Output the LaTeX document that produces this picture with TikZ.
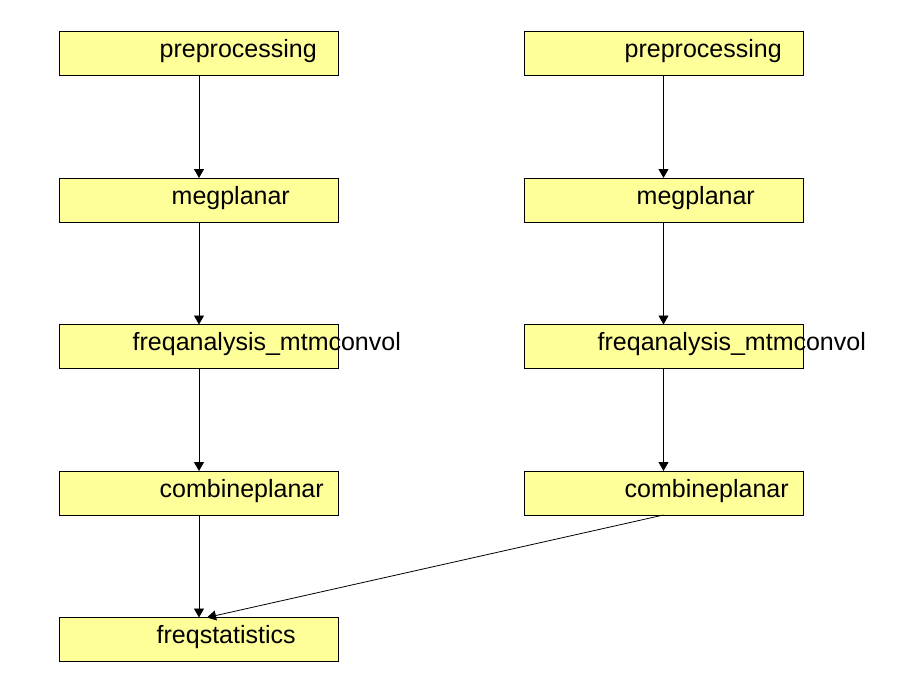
\documentclass[tikz,border=0pt]{standalone}
\usepackage{fontspec}
\setmainfont{Liberation Sans}
\usetikzlibrary{arrows.meta}
\definecolor{boxfill}{RGB}{255,255,153}
\begin{document}
\begin{tikzpicture}[x=1pt,y=-1pt,
  box/.style={draw=black,fill=boxfill,line width=0.8pt,minimum width=279pt,minimum height=44pt,inner sep=0pt,outer sep=0pt},
  lbl/.style={anchor=base west,inner sep=0pt,font=\fontsize{25pt}{28pt}\selectfont},
  conn/.style={draw=black,line width=0.8pt,-{Triangle[width=10pt,length=9pt]}}]
\useasboundingbox (0,0) rectangle (914,686);
% left column
\node[box] (pp1) at (199,53.5) {};
\node[box] (mp1) at (199,200) {};
\node[box] (fa1) at (199,346.5) {};
\node[box] (cp1) at (199,493) {};
\node[box] (fs) at (199,639.5) {};
% right column
\node[box] (pp2) at (663.5,53.5) {};
\node[box] (mp2) at (663.5,200) {};
\node[box] (fa2) at (663.5,346.5) {};
\node[box] (cp2) at (663.5,493) {};
% labels
\node[lbl] (tpp1) at (159.5,57.5) {preprocessing};
\node[lbl] (tmp1) at (171.5,204) {megplanar};
\node[lbl] (tfa1) at (132.5,350.5) {freqanalysis\_mtmconvol};
\node[lbl] (tcp1) at (159.5,497) {combineplanar};
\node[lbl] (tfs) at (156.5,643.5) {freqstatistics};
\node[lbl] (tpp2) at (624.5,57.5) {preprocessing};
\node[lbl] (tmp2) at (636.5,204) {megplanar};
\node[lbl] (tfa2) at (597.5,350.5) {freqanalysis\_mtmconvol};
\node[lbl] (tcp2) at (624.5,497) {combineplanar};
% connectors
\draw[conn] (pp1.south) -- (mp1.north);
\draw[conn] (mp1.south) -- (fa1.north);
\draw[conn] (fa1.south) -- (cp1.north);
\draw[conn] (cp1.south) -- (fs.north);
\draw[conn] (pp2.south) -- (mp2.north);
\draw[conn] (mp2.south) -- (fa2.north);
\draw[conn] (fa2.south) -- (cp2.north);
\coordinate (fsin) at ([xshift=8pt]fs.north);
\draw[conn] (cp2.south) -- (fsin);
\end{tikzpicture}
\end{document}
